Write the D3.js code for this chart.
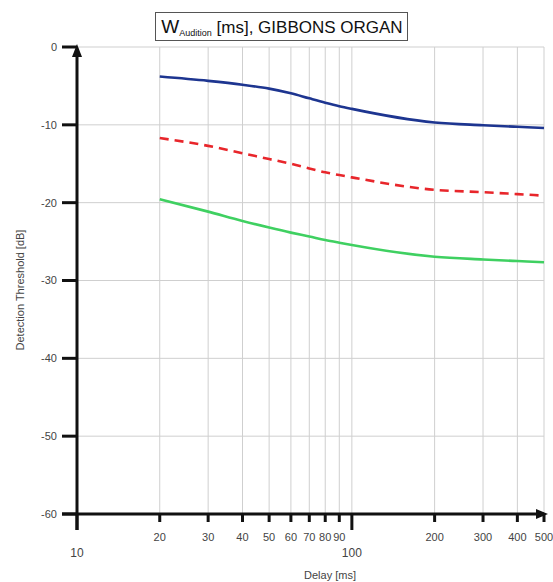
<!DOCTYPE html>
<html>
<head>
<meta charset="utf-8">
<script src="https://cdn.jsdelivr.net/npm/d3@7"></script>
<style>
  html, body { margin: 0; padding: 0; background: #fff; }
  svg { display: block; font-family: "Liberation Sans", Arial, sans-serif; }
</style>
</head>
<body>
<svg id="chart" width="553" height="582"></svg>
<script>
// Delay values (ms) at which thresholds were read
const delays = [20, 30, 40, 50, 60, 70, 80, 90, 100, 200, 300, 400, 500];
// Detection thresholds (dB) for the three curves
const upperCurve  = [-3.8, -4.35, -4.85, -5.35, -5.95, -6.6, -7.15, -7.6, -7.95, -9.7, -10.05, -10.25, -10.4];
const middleCurve = [-11.7, -12.7, -13.65, -14.4, -15.0, -15.6, -16.1, -16.45, -16.75, -18.35, -18.65, -18.9, -19.1];
const lowerCurve  = [-19.55, -21.15, -22.35, -23.2, -23.85, -24.35, -24.8, -25.15, -25.45, -26.95, -27.3, -27.5, -27.65];
// Axis ticks
const minorTicks = [20, 30, 40, 50, 60, 70, 80, 90, 200, 300, 400, 500];
const majorTicks = [10, 100];
const yTicks = [0, -10, -20, -30, -40, -50, -60];

const svg = d3.select("#chart");
const x = d3.scaleLog().domain([10, 500]).range([77, 544]);
const y = d3.scaleLinear().domain([-60, 0]).range([514, 47]);

const series = [
  { values: upperCurve,  color: "#1d3590", dash: null },
  { values: middleCurve, color: "#e8262b", dash: "9,6" },
  { values: lowerCurve,  color: "#3fd061", dash: null }
];

// Grid
const grid = svg.append("g").attr("stroke", "#cfcfcf").attr("stroke-width", 1);
grid.selectAll("line.h").data(yTicks.filter(d => d !== -60)).join("line")
  .attr("x1", x(10)).attr("x2", x(500))
  .attr("y1", d => y(d)).attr("y2", d => y(d));
grid.selectAll("line.v").data(minorTicks.concat([100])).join("line")
  .attr("x1", d => x(d)).attr("x2", d => x(d))
  .attr("y1", y(0)).attr("y2", y(-60));

// Curves
const line = d3.line()
  .x((d, i) => x(delays[i]))
  .y(d => y(d))
  .curve(d3.curveMonotoneX);
svg.append("g").selectAll("path").data(series).join("path")
  .attr("fill", "none")
  .attr("stroke", d => d.color)
  .attr("stroke-width", 2.6)
  .attr("stroke-dasharray", d => d.dash)
  .attr("d", d => line(d.values));

// Axes
const axes = svg.append("g").attr("stroke", "#111").attr("stroke-width", 3);
axes.append("line").attr("x1", x(10)).attr("x2", x(10)).attr("y1", y(0) + 6).attr("y2", 530);
axes.append("line").attr("x1", 62).attr("x2", x(500)).attr("y1", y(-60)).attr("y2", y(-60));
axes.selectAll("line.yt").data(yTicks).join("line")
  .attr("x1", 62).attr("x2", x(10))
  .attr("y1", d => y(d)).attr("y2", d => y(d));
axes.selectAll("line.xt").data(minorTicks).join("line")
  .attr("x1", d => x(d)).attr("x2", d => x(d))
  .attr("y1", y(-60)).attr("y2", y(-60) + 8);
axes.selectAll("line.xm").data(majorTicks).join("line")
  .attr("x1", d => x(d)).attr("x2", d => x(d))
  .attr("y1", y(-60)).attr("y2", y(-60) + 16);
// Arrow heads
svg.append("path").attr("fill", "#111")
  .attr("d", `M${x(10)},${y(0) - 3} L${x(10) - 5},${y(0) + 10} L${x(10) + 5},${y(0) + 10} Z`);
svg.append("path").attr("fill", "#111")
  .attr("d", `M${x(500) + 4},${y(-60)} L${x(500) - 8},${y(-60) - 5} L${x(500) - 8},${y(-60) + 5} Z`);

// Tick labels
const lbl = svg.append("g").attr("fill", "#444").attr("font-size", 11);
lbl.selectAll("text.y").data(yTicks).join("text")
  .attr("x", 57).attr("y", d => y(d)).attr("dy", "0.35em")
  .attr("text-anchor", "end").text(d => d);
lbl.selectAll("text.x").data(minorTicks).join("text")
  .attr("x", d => x(d)).attr("y", 537).attr("dy", "0.35em")
  .attr("text-anchor", "middle").text(d => d);
lbl.selectAll("text.xm").data(majorTicks).join("text")
  .attr("x", d => x(d)).attr("y", 553).attr("dy", "0.35em")
  .attr("font-size", 12)
  .attr("text-anchor", "middle").text(d => d);

// Axis titles
svg.append("text").attr("x", 330).attr("y", 575).attr("dy", "0.35em")
  .attr("text-anchor", "middle").attr("font-size", 11).attr("fill", "#444")
  .text("Delay [ms]");
svg.append("text").attr("transform", "translate(20,290) rotate(-90)")
  .attr("dy", "0.35em").attr("text-anchor", "middle")
  .attr("font-size", 11).attr("fill", "#444")
  .text("Detection Threshold [dB]");

// Title box
svg.append("rect").attr("x", 155.5).attr("y", 12.5).attr("width", 252).attr("height", 28)
  .attr("fill", "#fff").attr("stroke", "#555").attr("stroke-width", 1);
const title = svg.append("text").attr("x", 282).attr("y", 33)
  .attr("text-anchor", "middle").attr("fill", "#111").attr("font-size", 17);
title.append("tspan").attr("font-size", 19).text("W");
title.append("tspan").attr("font-size", 9).attr("dy", 3).text("Audition");
title.append("tspan").attr("dy", -3).text(" [ms], GIBBONS ORGAN");
</script>
</body>
</html>
